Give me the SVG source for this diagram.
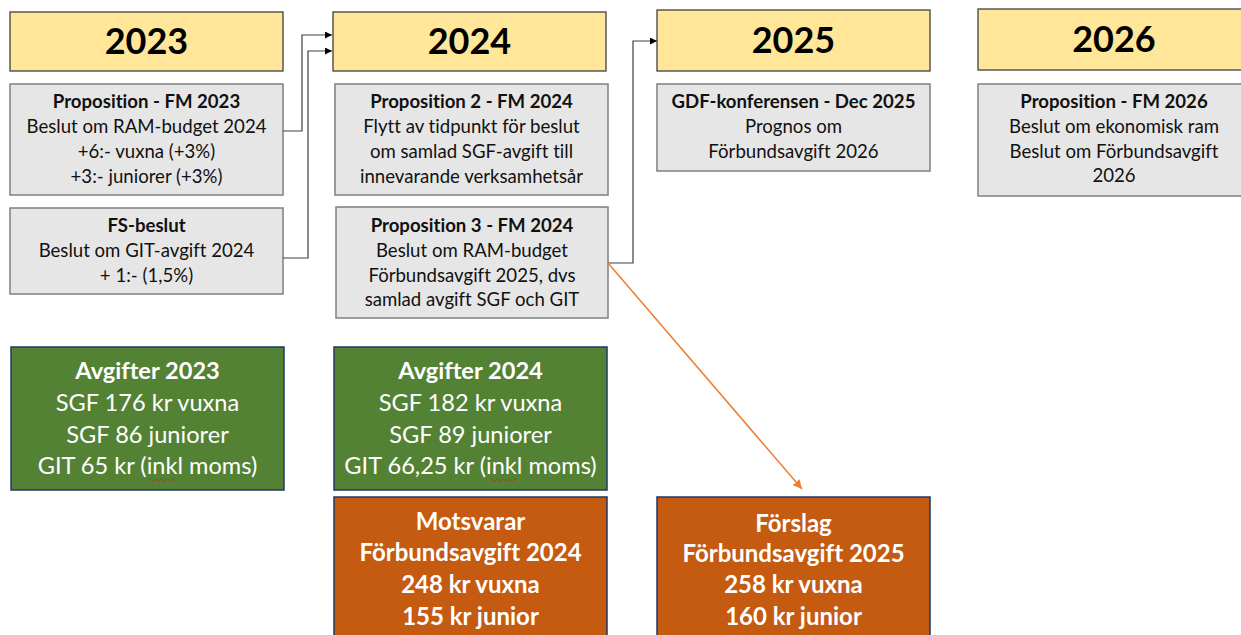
<svg xmlns="http://www.w3.org/2000/svg" width="1241" height="635" viewBox="0 0 1241 635">
<style>
text{font-family:Lato,"Open Sans","Liberation Sans",sans-serif;text-anchor:middle;font-variant-ligatures:none}
.hdr rect{fill:#FFE699;stroke:#404040;stroke-width:1.3}
.hdr text{font-size:36px;font-weight:bold;fill:#000}
.gray rect{fill:#E7E6E6;stroke:#7F7F7F;stroke-width:1.5}
.gray text{font-size:18.6px;fill:#111}
.b{font-weight:bold}
.green rect{fill:#548235;stroke:#1F3864;stroke-width:1.5}
.green text{font-size:23.6px;fill:#fff}
.orange rect{fill:#C55A11;stroke:#1F3864;stroke-width:1.5}
.orange text{font-size:24px;fill:#fff;font-weight:bold}
.conn{fill:none;stroke:#404040;stroke-width:1.2}
</style>
<defs>
<marker id="ah" viewBox="0 0 10 10" refX="10" refY="5" markerWidth="7" markerHeight="7" markerUnits="userSpaceOnUse" orient="auto"><path d="M0,0L10,5L0,10z" fill="#000"/></marker>
<marker id="ao" viewBox="0 0 10 10" refX="10" refY="5" markerWidth="9" markerHeight="9" markerUnits="userSpaceOnUse" orient="auto"><path d="M0,0L10,5L0,10z" fill="#ED7D31"/></marker>
</defs>

<g id="h2023" class="hdr"><rect x="10" y="12" width="273" height="59"/><text x="146.5" y="54">2023</text></g>
<g id="h2024" class="hdr"><rect x="333" y="12" width="273" height="59"/><text x="469.5" y="54">2024</text></g>
<g id="h2025" class="hdr"><rect x="657" y="10" width="273" height="61"/><text x="793.5" y="53">2025</text></g>
<g id="h2026" class="hdr"><rect x="978" y="9" width="273" height="61"/><text x="1114" y="52">2026</text></g>

<g id="prop2023" class="gray"><rect x="10" y="84" width="273" height="111"/>
<text x="146.5" y="108" class="b">Proposition - FM 2023</text>
<text x="146.5" y="133">Beslut om RAM-budget 2024</text>
<text x="146.5" y="158">+6:- vuxna (+3%)</text>
<text x="146.5" y="183">+3:- juniorer (+3%)</text></g>

<g id="fs" class="gray"><rect x="10" y="208" width="273" height="86"/>
<text x="146.5" y="232" class="b">FS-beslut</text>
<text x="146.5" y="257">Beslut om GIT-avgift 2024</text>
<text x="146.5" y="282">+ 1:- (1,5%)</text></g>

<g id="prop2" class="gray"><rect x="335" y="84" width="273" height="111"/>
<text x="471.5" y="108" class="b">Proposition 2 - FM 2024</text>
<text x="471.5" y="133">Flytt av tidpunkt för beslut</text>
<text x="471.5" y="158">om samlad SGF-avgift till</text>
<text x="471.5" y="183">innevarande verksamhetsår</text></g>

<g id="prop3" class="gray"><rect x="336" y="207" width="272" height="111"/>
<text x="472" y="232" class="b">Proposition 3 - FM 2024</text>
<text x="472" y="257">Beslut om RAM-budget</text>
<text x="472" y="282">Förbundsavgift 2025, dvs</text>
<text x="472" y="306">samlad avgift SGF och GIT</text></g>

<g id="gdf" class="gray"><rect x="657" y="84" width="273" height="87"/>
<text x="793.5" y="108" class="b">GDF-konferensen - Dec 2025</text>
<text x="793.5" y="133">Prognos om</text>
<text x="793.5" y="158">Förbundsavgift 2026</text></g>

<g id="prop2026" class="gray"><rect x="978" y="84" width="273" height="112"/>
<text x="1114" y="108" class="b">Proposition - FM 2026</text>
<text x="1114" y="133">Beslut om ekonomisk ram</text>
<text x="1114" y="158">Beslut om Förbundsavgift</text>
<text x="1114" y="182">2026</text></g>

<g id="avg2023" class="green"><rect x="11" y="347" width="273" height="143"/>
<text x="147.5" y="379" class="b">Avgifter 2023</text>
<text x="147.5" y="411">SGF 176 kr vuxna</text>
<text x="147.5" y="443">SGF 86 juniorer</text>
<text x="147.5" y="474">GIT 65 kr (inkl moms)</text>
<path d="M148,480 q1.5,-2 3,0 t3,0 t3,0 t3,0 t3,0 t3,0 t3,0 t3,0 t3,0" fill="none" stroke="#E02020" stroke-width="0.8"/></g>

<g id="avg2024" class="green"><rect x="334" y="347" width="273" height="143"/>
<text x="470.5" y="379" class="b">Avgifter 2024</text>
<text x="470.5" y="411">SGF 182 kr vuxna</text>
<text x="470.5" y="443">SGF 89 juniorer</text>
<text x="470.5" y="474">GIT 66,25 kr (inkl moms)</text>
<path d="M490,480 q1.5,-2 3,0 t3,0 t3,0 t3,0 t3,0 t3,0 t3,0 t3,0 t3,0" fill="none" stroke="#E02020" stroke-width="0.8"/></g>

<g id="mots" class="orange"><rect x="334" y="497" width="273" height="145"/>
<text x="470.5" y="530">Motsvarar</text>
<text x="470.5" y="561">Förbundsavgift 2024</text>
<text x="470.5" y="593">248 kr vuxna</text>
<text x="470.5" y="625">155 kr junior</text></g>

<g id="forslag" class="orange"><rect x="657" y="497" width="273" height="145"/>
<text x="793.5" y="532">Förslag</text>
<text x="793.5" y="562">Förbundsavgift 2025</text>
<text x="793.5" y="593">258 kr vuxna</text>
<text x="793.5" y="625">160 kr junior</text></g>

<g id="connectors">
<path class="conn" d="M283,131H302V35H332" marker-end="url(#ah)"/>
<path class="conn" d="M283,258H308V51H332" marker-end="url(#ah)"/>
<path class="conn" d="M608,263H633V41H657" marker-end="url(#ah)"/>
<path d="M608,263L802,489" fill="none" stroke="#ED7D31" stroke-width="1.5" marker-end="url(#ao)"/>
</g>
</svg>
